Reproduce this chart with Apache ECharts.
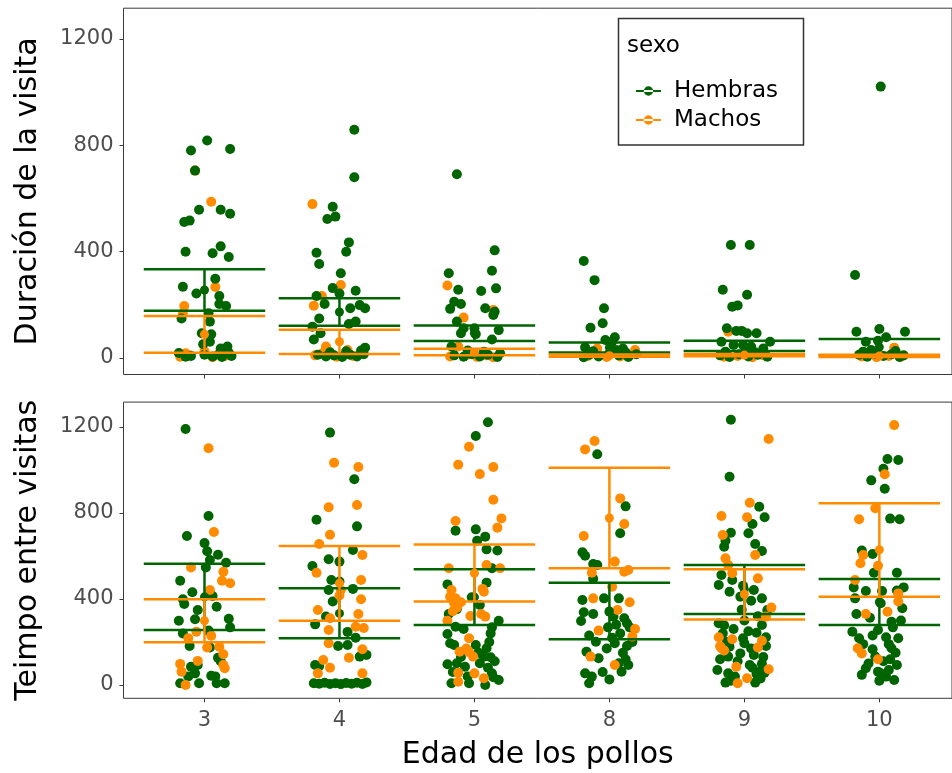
<!DOCTYPE html>
<html>
<head>
<meta charset="utf-8">
<script src="https://cdn.jsdelivr.net/npm/echarts@6/dist/echarts.min.js"></script>
<style>
  html, body { margin: 0; padding: 0; background: #ffffff; }
  #chart { width: 952px; height: 773px; }
</style>
</head>
<body>
<div id="chart"></div>
<script>
// Age groups of the chicks (x categories)
const ages = ['3', '4', '5', '8', '9', '10'];
const yTicks = [0, 400, 800, 1200];

// Visit duration, one list per age group: [horizontal jitter, value]
const durHembras = [
  [[0.02,818],[-0.10,781],[0.19,786],[-0.07,705],[-0.04,558],[0.12,558],[0.19,543],[-0.15,512],[-0.11,517],[-0.14,400],[0.12,420],[0.06,394],[0.18,380],[0.08,298],[-0.16,268],[-0.06,243],[0.11,233],[0.11,203],[0.16,196],[-0.17,149],[0.03,168],[0.04,137],[-0.02,93],[0.05,89],[0.04,61],[-0.01,52],[0.17,43],[0.12,36],[-0.19,19],[-0.1,8],[0.0,12],[0.06,6],[0.11,15],[0.18,20],[0.2,8],[-0.14,5],[0.13,4]],
  [[0.11,859],[0.11,680],[-0.05,569],[-0.09,523],[-0.03,532],[0.07,435],[0.05,400],[-0.17,396],[-0.15,354],[0.01,319],[-0.05,263],[0.12,253],[-0.17,233],[-0.11,203],[0,243],[0.08,187],[0.15,199],[0.19,187],[-0.15,149],[0.07,128],[0.12,137],[-0.2,118],[-0.14,93],[-0.19,70],[0.19,39],[-0.16,12],[-0.1,6],[-0.04,10],[0.02,4],[0.08,12],[0.13,6],[0.18,14],[-0.07,22],[0.05,25],[0.16,28]],
  [[-0.13,691],[0.15,405],[-0.19,319],[0.13,328],[-0.12,257],[0.05,252],[0.16,262],[-0.15,212],[-0.1,203],[-0.18,185],[0.08,187],[0.15,174],[0.14,162],[-0.13,137],[-0.08,112],[0,112],[0.18,105],[-0.1,93],[0.01,90],[0.13,70],[-0.17,43],[-0.15,10],[-0.08,5],[-0.02,14],[0.04,6],[0.1,12],[0.17,4],[-0.05,28],[0.07,24],[0.19,18]],
  [[-0.19,365],[-0.11,293],[-0.04,187],[-0.05,131],[-0.14,114],[0.04,78],[0.02,61],[-0.18,40],[-0.03,68],[0.1,36],[-0.15,12],[-0.08,6],[0,18],[0.07,10],[0.14,4],[0.2,14],[-0.12,25],[0.05,30],[-0.19,3],[0.12,22]],
  [[-0.1,425],[0.04,425],[-0.16,257],[0.02,238],[-0.09,193],[-0.05,198],[-0.13,112],[-0.06,102],[-0.02,102],[0.02,93],[0.09,93],[0.19,61],[-0.17,61],[-0.08,49],[-0.01,49],[0.05,43],[0.14,36],[-0.18,10],[-0.11,4],[-0.04,14],[0.03,6],[0.1,12],[0.17,5],[-0.14,24],[0.08,22]],
  [[0.01,1021],[-0.18,312],[-0.17,99],[0,109],[0.19,99],[-0.1,61],[-0.01,65],[0.05,78],[-0.15,12],[-0.09,5],[-0.03,16],[0.03,8],[0.09,14],[0.15,4],[-0.06,30],[0.12,26],[-0.12,24],[0.18,10]]
];
const durMachos = [
  [[-0.07,705],[0.05,588],[0.08,267],[-0.15,196],[-0.16,168],[-0.18,5],[-0.11,10],[0.06,3],[0.15,8],[-0.14,18],[0.0,25],[0.1,12]],
  [[-0.2,579],[0.01,275],[-0.13,233],[-0.19,197],[-0.1,43],[-0.18,10],[-0.12,20],[-0.02,5],[0.06,30],[0.1,8]],
  [[-0.2,273],[-0.08,152],[0.14,181],[-0.12,43],[-0.18,6],[-0.05,12],[0.02,4],[0.09,10],[0.14,3]],
  [[-0.09,36],[0.19,30],[-0.16,8],[-0.02,4],[0.08,6],[0.15,10]],
  [[-0.12,99],[-0.15,5],[-0.05,8],[0.06,3],[0.14,10],[0.0,20]],
  [[0.11,39],[-0.13,6],[-0.02,3],[0.07,8],[0.16,5]]
];

// Time between visits, one list per age group: [horizontal jitter, value]
const tiempoHembras = [
  [[-0.14,1191],[0.03,786],[-0.13,693],[0,660],[0.02,622],[0.1,606],[0.04,581],[0.16,569],[0.01,547],[-0.18,485],[-0.09,431],[0.06,414],[-0.16,399],[-0.15,377],[0.09,364],[-0.05,349],[-0.19,299],[-0.07,306],[0.18,308],[0.19,268],[-0.16,240],[0.03,253],[-0.11,181],[0.04,174],[0.1,127],[-0.1,85],[-0.05,93],[-0.07,54],[0.05,43],[-0.18,8],[-0.04,8],[0.09,8],[0.15,8],[-0.12,40],[0.08,40],[0.12,110]],
  [[-0.07,1174],[0.11,957],[-0.17,769],[0.13,738],[0.1,628],[-0.08,585],[0,574],[-0.2,553],[-0.06,488],[0,481],[-0.08,442],[0.1,447],[-0.05,388],[-0.1,318],[-0.18,282],[0.06,247],[0.12,220],[-0.01,181],[0.06,186],[0.2,140],[0.15,132],[-0.18,93],[-0.15,88],[-0.19,8],[-0.15,6],[-0.11,10],[-0.07,5],[-0.03,8],[0.01,4],[0.05,9],[0.09,6],[0.13,10],[0.17,5],[0.2,12]],
  [[0.1,1222],[0.01,1158],[-0.14,718],[0.01,724],[0.08,690],[0.02,671],[0.09,631],[0.17,626],[0.13,543],[0.09,476],[-0.2,468],[-0.02,408],[-0.13,353],[0.04,372],[0.18,299],[-0.14,271],[0.13,268],[-0.2,237],[0.12,240],[-0.18,194],[-0.15,186],[0.01,186],[0.09,171],[0.07,132],[0.12,129],[-0.2,96],[-0.13,101],[-0.07,85],[0.04,101],[0.13,54],[-0.17,8],[-0.04,8],[0.08,0],[0.18,23],[0.14,36],[-0.16,60],[-0.1,130],[0.1,80],[0.15,110],[-0.05,40],[0.03,150],[0.11,200],[-0.19,330],[-0.08,260]],
  [[-0.09,1073],[0.12,831],[0.08,706],[-0.2,617],[-0.18,601],[-0.12,563],[-0.09,558],[-0.12,494],[-0.2,395],[-0.04,403],[0.07,403],[-0.19,338],[0,341],[0.03,318],[0.11,310],[-0.21,298],[0.13,287],[-0.01,268],[0.15,268],[0.08,240],[-0.1,201],[0.04,194],[0.13,181],[-0.17,155],[-0.08,124],[0.07,101],[0.14,93],[-0.18,54],[-0.13,39],[0,26],[0.09,62],[-0.15,8],[-0.15,230],[0.1,150],[-0.05,60],[0.12,120],[0.17,200],[-0.02,170],[0.05,280],[-0.12,330],[0.02,220]],
  [[-0.1,1234],[-0.11,969],[0.11,829],[0.15,780],[0.06,749],[-0.1,708],[0.03,706],[-0.14,671],[-0.15,643],[0.08,656],[0.13,623],[-0.17,512],[-0.09,488],[-0.19,465],[-0.01,462],[-0.11,434],[0.07,442],[-0.03,411],[0.05,392],[0.13,403],[0.17,349],[0.13,279],[-0.19,287],[-0.15,278],[0.09,243],[-0.01,217],[0.16,222],[-0.11,178],[0,194],[0.16,181],[-0.12,132],[-0.03,147],[0.07,140],[-0.2,70],[0.04,93],[0.13,98],[-0.12,54],[-0.07,39],[0.09,51],[-0.14,11],[0.08,11],[0.15,57],[-0.16,240],[-0.08,260],[0.0,300],[0.1,320],[-0.13,200],[0.05,170],[0.14,130],[-0.05,110],[0.11,60],[-0.18,120],[0.03,250],[-0.02,350],[0.06,80],[-0.1,20],[0.12,30]],
  [[0.06,1051],[0.14,1047],[0.03,1006],[-0.06,952],[0.04,913],[0.08,774],[0.15,771],[-0.13,626],[-0.05,609],[-0.04,522],[0.13,522],[-0.19,454],[-0.1,437],[0.02,437],[0.13,439],[0.18,454],[-0.18,403],[0.01,380],[0.17,357],[-0.07,313],[0.09,294],[-0.2,248],[-0.01,256],[0.1,268],[-0.15,217],[0.05,222],[0.14,217],[-0.05,166],[0.09,171],[-0.03,132],[0.13,93],[-0.1,78],[-0.01,62],[-0.13,47],[0.05,39],[0.11,23],[0.01,54],[0.07,70],[-0.08,100],[0.03,110],[-0.12,190],[0.07,190],[0.16,300],[-0.17,330],[0.12,150],[0.0,20],[0.08,120],[-0.05,230]]
];
const tiempoMachos = [
  [[0.03,1101],[0.07,712],[-0.1,547],[0.14,527],[0.13,485],[0.19,473],[0.04,442],[-0.06,248],[-0.12,217],[0.05,229],[0.02,174],[0.11,178],[0.14,143],[-0.18,98],[-0.05,112],[0.14,93],[0.15,78],[-0.17,62],[-0.14,0]],
  [[-0.04,1034],[0.14,1014],[-0.08,827],[0.13,837],[-0.07,699],[-0.15,656],[0.17,605],[-0.17,522],[0.16,488],[0.01,442],[0,416],[0.16,399],[-0.16,349],[0.14,330],[-0.07,310],[0.12,271],[0.18,265],[-0.08,256],[-0.08,194],[0.17,166],[0.07,127],[-0.12,116],[-0.07,80],[0.17,54],[-0.16,54]],
  [[-0.04,1108],[-0.12,1025],[0.14,1014],[0.04,981],[0.14,862],[0.2,775],[-0.14,763],[0.17,732],[-0.19,543],[0.09,558],[0.19,543],[0.06,447],[-0.17,442],[0.07,434],[-0.18,411],[-0.14,403],[-0.1,385],[-0.16,343],[-0.03,321],[0.08,318],[-0.2,299],[-0.04,217],[-0.11,155],[-0.04,152],[-0.01,132],[-0.12,57],[0,54],[0.07,31],[-0.12,15],[-0.15,380],[-0.13,360],[-0.06,170],[0.05,330]],
  [[-0.11,1135],[-0.18,1096],[0.08,868],[0.11,749],[-0.19,693],[0.04,574],[0.11,527],[0.14,535],[-0.13,522],[0.02,457],[-0.12,403],[0.15,385],[0.06,349],[-0.08,253],[0.19,260],[0.17,225],[-0.14,132],[0.04,93]],
  [[0.18,1144],[0.04,848],[-0.17,786],[0.02,780],[-0.16,698],[0.08,605],[-0.14,589],[-0.12,558],[-0.09,520],[0.1,496],[0.2,360],[0.16,318],[-0.19,222],[-0.09,213],[-0.17,171],[0.13,206],[0.1,174],[-0.06,85],[0.18,73],[-0.05,8],[0.02,31],[-0.18,180],[-0.15,160]],
  [[0.11,1209],[0.04,980],[-0.03,822],[-0.15,771],[-0.12,605],[-0.14,566],[-0.01,555],[-0.18,488],[0.14,426],[0.14,388],[0.06,341],[-0.1,330],[-0.16,171],[-0.13,147],[-0.01,120]]
];

// Group summaries: mean with lower / upper error limits
const durHembrasMean = [256, 173, 93, 40, 45, 41];
const durHembrasLo   = [178, 121, 64, 21, 26, 10];
const durHembrasHi   = [334, 225, 122, 58, 65, 72];
const durMachosMean  = [89, 61, 22, 9, 11, 8];
const durMachosLo    = [20, 15, 10, 5, 7, 4];
const durMachosHi    = [158, 106, 35, 13, 15, 12];

const tiempoHembrasMean = [410, 333, 409, 344, 444, 386];
const tiempoHembrasLo   = [256, 217, 279, 213, 330, 279];
const tiempoHembrasHi   = [564, 450, 538, 476, 558, 493];
const tiempoMachosMean  = [299, 473, 520, 777, 422, 629];
const tiempoMachosLo    = [199, 299, 388, 543, 305, 411];
const tiempoMachosHi    = [399, 647, 653, 1011, 538, 846];

const GREEN = '#006400';
const ORANGE = '#FF8C00';
const FONT = 'DejaVu Sans';
const AXIS_COLOR = '#3a3a3a';
const LABEL_COLOR = '#4D4D4D';
const CAP = 0.45;

function jittered(groups) {
  const out = [];
  groups.forEach((pts, i) => pts.forEach(p => out.push([i + p[0], p[1]])));
  return out;
}
function summaryRows(mean, lo, hi) {
  return ages.map((_, i) => [i, lo[i], hi[i], mean[i]]);
}
function errorBarItem(params, api) {
  const x = api.value(0);
  const lo = api.value(1), hi = api.value(2), mu = api.value(3);
  const pHi = api.coord([x, hi]);
  const pLo = api.coord([x, lo]);
  const pMu = api.coord([x, mu]);
  const xl = api.coord([x - CAP, hi])[0];
  const xr = api.coord([x + CAP, hi])[0];
  const color = api.visual('color');
  const st = { stroke: color, lineWidth: 2.5 };
  return {
    type: 'group',
    children: [
      { type: 'line', shape: { x1: xl, y1: pHi[1], x2: xr, y2: pHi[1] }, style: st },
      { type: 'line', shape: { x1: xl, y1: pLo[1], x2: xr, y2: pLo[1] }, style: st },
      { type: 'line', shape: { x1: pHi[0], y1: pHi[1], x2: pLo[0], y2: pLo[1] }, style: st },
      { type: 'circle', shape: { cx: pMu[0], cy: pMu[1], r: 4.5 }, style: { fill: color } }
    ]
  };
}

const chart = echarts.init(document.getElementById('chart'), null, { renderer: 'canvas' });

const gridLeft = 123.5;
const gridWidth = 952 - gridLeft + 2;
const xMin = -0.6;
const xMax = xMin + gridWidth / 135.3;

function xAxisFor(gridIndex, withLabels) {
  return {
    type: 'value', gridIndex, min: xMin, max: xMax, position: 'bottom',
    axisLine: { show: false, onZero: false },
    splitLine: { show: false },
    axisTick: { show: true, length: 4, customValues: [0, 1, 2, 3, 4, 5], lineStyle: { color: AXIS_COLOR, width: 1 } },
    axisLabel: {
      show: withLabels, customValues: [0, 1, 2, 3, 4, 5], margin: 12,
      formatter: v => ages[Math.round(v)],
      fontFamily: FONT, fontSize: 21, color: LABEL_COLOR
    },
    name: withLabels ? 'Edad de los pollos' : '',
    nameLocation: 'middle', nameGap: 42,
    nameTextStyle: { fontFamily: FONT, fontSize: 30, color: '#000' }
  };
}
function yAxisFor(gridIndex, title) {
  return {
    type: 'value', gridIndex, min: -62, max: 1316, position: 'left',
    axisLine: { show: false, onZero: false },
    splitLine: { show: false },
    axisTick: { show: true, length: 4, customValues: yTicks, lineStyle: { color: AXIS_COLOR, width: 1 } },
    axisLabel: { customValues: yTicks, margin: 10, formatter: v => String(v), fontFamily: FONT, fontSize: 21, color: LABEL_COLOR },
    name: title, nameLocation: 'middle', nameGap: 80,
    nameTextStyle: { fontFamily: FONT, fontSize: 30, color: '#000' }
  };
}

const pointStyle = size => ({ symbol: 'circle', symbolSize: size });

const option = {
  backgroundColor: '#ffffff',
  animation: false,
  grid: [
    { left: gridLeft, right: -2, top: 8.2, height: 366.3, show: true, borderColor: AXIS_COLOR, borderWidth: 1, backgroundColor: 'transparent' },
    { left: gridLeft, right: -2, top: 402.1, height: 296.2, show: true, borderColor: AXIS_COLOR, borderWidth: 1, backgroundColor: 'transparent' }
  ],
  xAxis: [xAxisFor(0, false), xAxisFor(1, true)],
  yAxis: [yAxisFor(0, 'Duración de la visita'), yAxisFor(1, 'Teimpo entre visitas')],
  legend: {
    orient: 'vertical', left: 631, top: 74,
    itemWidth: 25, itemHeight: 12, itemGap: 5,
    icon: 'path://M0,5 L24,5 L24,7 L0,7 Z M16.5,6 A4.5,4.5 0 1,0 7.5,6 A4.5,4.5 0 1,0 16.5,6 Z',
    textStyle: { fontFamily: FONT, fontSize: 23, lineHeight: 24, color: '#000', padding: [0, 0, 0, 8] },
    data: ['Hembras', 'Machos']
  },
  graphic: [
    { type: 'rect', shape: { x: 618.5, y: 18.5, width: 185, height: 126.5 }, style: { fill: '#fff', stroke: '#333', lineWidth: 1.5 }, z: -1 },
    { type: 'text', x: 627, y: 46.5, style: { text: 'sexo', font: '23px "DejaVu Sans"', fill: '#000', verticalAlign: 'middle' } }
  ],
  series: [
    { name: 'Machos', type: 'scatter', xAxisIndex: 0, yAxisIndex: 0, data: jittered(durMachos), itemStyle: { color: ORANGE, opacity: 1 }, ...pointStyle(10) },
    { name: 'Hembras', type: 'scatter', xAxisIndex: 0, yAxisIndex: 0, data: jittered(durHembras), itemStyle: { color: GREEN, opacity: 1 }, ...pointStyle(10) },
    { name: 'Hembras', type: 'scatter', xAxisIndex: 1, yAxisIndex: 1, data: jittered(tiempoHembras), itemStyle: { color: GREEN, opacity: 1 }, ...pointStyle(10) },
    { name: 'Machos', type: 'scatter', xAxisIndex: 1, yAxisIndex: 1, data: jittered(tiempoMachos), itemStyle: { color: ORANGE, opacity: 1 }, ...pointStyle(10) },
    { name: 'Hembras', type: 'custom', xAxisIndex: 0, yAxisIndex: 0, renderItem: errorBarItem, encode: { x: 0, y: [1, 2, 3] }, itemStyle: { color: GREEN }, data: summaryRows(durHembrasMean, durHembrasLo, durHembrasHi), z: 3 },
    { name: 'Machos', type: 'custom', xAxisIndex: 0, yAxisIndex: 0, renderItem: errorBarItem, encode: { x: 0, y: [1, 2, 3] }, itemStyle: { color: ORANGE }, data: summaryRows(durMachosMean, durMachosLo, durMachosHi), z: 3 },
    { name: 'Hembras', type: 'custom', xAxisIndex: 1, yAxisIndex: 1, renderItem: errorBarItem, encode: { x: 0, y: [1, 2, 3] }, itemStyle: { color: GREEN }, data: summaryRows(tiempoHembrasMean, tiempoHembrasLo, tiempoHembrasHi), z: 3 },
    { name: 'Machos', type: 'custom', xAxisIndex: 1, yAxisIndex: 1, renderItem: errorBarItem, encode: { x: 0, y: [1, 2, 3] }, itemStyle: { color: ORANGE }, data: summaryRows(tiempoMachosMean, tiempoMachosLo, tiempoMachosHi), z: 3 }
  ]
};

chart.setOption(option);
</script>
</body>
</html>
